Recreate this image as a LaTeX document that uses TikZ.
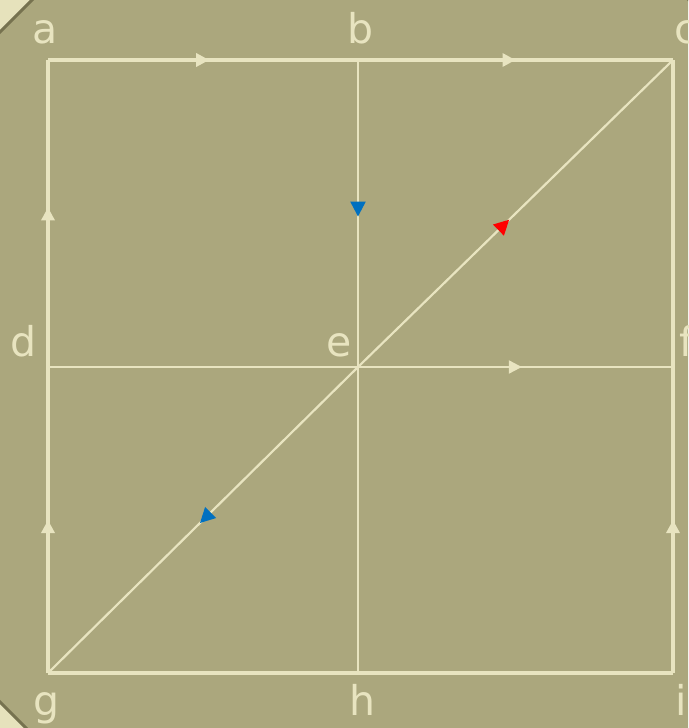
\documentclass[tikz,border=0pt]{standalone}
\usepackage{fontspec}
\setmainfont{DejaVu Sans}
\usetikzlibrary{arrows.meta,decorations.markings}
\definecolor{olivebg}{HTML}{ABA77D}
\definecolor{creamout}{HTML}{E6E2BC}
\definecolor{rim}{HTML}{76724F}
\definecolor{cream}{HTML}{E8E4C0}
\definecolor{arrblue}{HTML}{0070C0}
\definecolor{arrred}{HTML}{FF0000}
\tikzset{
  outer/.style={draw=cream, line width=3.5pt},
  inner/.style={draw=cream, line width=2.2pt},
  lbl/.style={text=cream, anchor=base, inner sep=0pt, font=\fontsize{41}{48}\selectfont},
  carr/.style={postaction={decorate}, decoration={markings,
      mark=at position #1 with {\arrow[cream]{Triangle[length=13pt,width=13pt]}}}},
  barr/.style={postaction={decorate}, decoration={markings,
      mark=at position #1 with {\arrow[arrblue]{Triangle[length=15pt,width=15pt]}}}},
  rarr/.style={postaction={decorate}, decoration={markings,
      mark=at position #1 with {\arrow[arrred]{Triangle[length=15pt,width=15pt]}}}},
}
\begin{document}
\begin{tikzpicture}[x=1pt,y=-1pt]
\useasboundingbox (0,0) rectangle (688,728);
\clip (0,0) rectangle (688,728);
\fill[creamout] (0,0) rectangle (688,728);
\filldraw[fill=olivebg, draw=rim, line width=3pt]
  (850,570) -- (563,857) -- (155,857) -- (-132,570) -- (-132,164)
  -- (155,-123) -- (566,-123) -- (850,161) -- cycle;
% points
\coordinate (a) at (48,60);
\coordinate (b) at (358,60);
\coordinate (c) at (673,60);
\coordinate (d) at (48,367);
\coordinate (e) at (358,367);
\coordinate (f) at (673,367);
\coordinate (g) at (48,673);
\coordinate (h) at (358,673);
\coordinate (i) at (673,673);
% inner lines
\draw[inner, barr=0.51] (b) -- (e);
\draw[inner] (e) -- (h);
\draw[inner] (d) -- (e);
\draw[inner, carr=0.52] (e) -- (f);
\draw[inner, rarr=0.48] (e) -- (c);
\draw[inner, barr=0.51] (e) -- (g);
% outer lines
\draw[outer, carr=0.52] (a) -- (b);
\draw[outer, carr=0.5] (b) -- (c);
\draw[outer] (c) -- (f);
\draw[outer, carr=0.5] (i) -- (f);
\draw[outer] (g) -- (h);
\draw[outer] (h) -- (i);
\draw[outer, carr=0.5] (g) -- (d);
\draw[outer, carr=0.52] (d) -- (a);
% labels
\node[lbl] (la) at (45,43) {a};
\node[lbl] (lb) at (361,43) {b};
\node[lbl] (lc) at (686,43) {c};
\node[lbl] (ld) at (24,356) {d};
\node[lbl] (le) at (339,356) {e};
\node[lbl] (lf) at (687,356) {f};
\node[lbl] (lg) at (47,715) {g};
\node[lbl] (lh) at (362,715) {h};
\node[lbl] (li) at (681,715) {i};
\end{tikzpicture}
\end{document}
